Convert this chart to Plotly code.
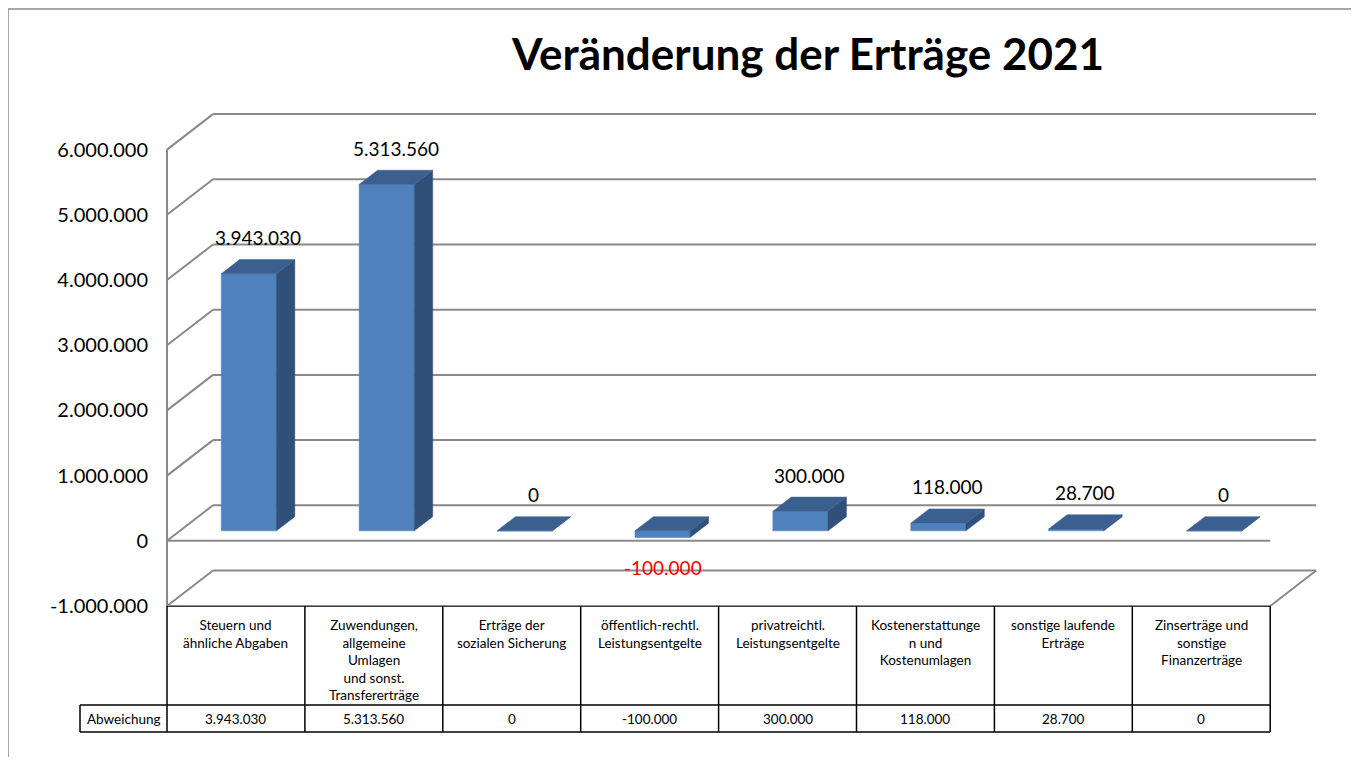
import plotly.graph_objects as go

# ---------------- data ----------------
categories = [
    "Steuern und<br>ähnliche Abgaben",
    "Zuwendungen,<br>allgemeine<br>Umlagen<br>und sonst.<br>Transfererträge",
    "Erträge der<br>sozialen Sicherung",
    "öffentlich-rechtl.<br>Leistungsentgelte",
    "privatreichtl.<br>Leistungsentgelte",
    "Kostenerstattunge<br>n und<br>Kostenumlagen",
    "sonstige laufende<br>Erträge",
    "Zinserträge und<br>sonstige<br>Finanzerträge",
]
values = [3943030, 5313560, 0, -100000, 300000, 118000, 28700, 0]
tick_values = [-1000000, 0, 1000000, 2000000, 3000000, 4000000, 5000000, 6000000]
row_label = "Abweichung"
title_text = "Veränderung der Erträge 2021"


def de(n):
    return f"{n:,}".replace(",", ".")


# ---------------- layout constants (page pixels) ----------------
OFF = 8                       # default body margin of the html page
PAGE_W, PAGE_H = 1359, 765
W, H = PAGE_W - OFF, PAGE_H - 2 * OFF
PLOT_L, PLOT_R, PLOT_T, PLOT_B = 60, 1340, 100, 733   # plot area in page px
L, T = PLOT_L - OFF, PLOT_T - OFF
R = W - (PLOT_R - OFF)
B = H - (PLOT_B - OFF)
plot_w = PLOT_R - PLOT_L
plot_h = PLOT_B - PLOT_T
PX_CAT = 137.9            # pixels per category
PX_VAL = 65.2 / 1e6       # pixels per value unit
FRONT_LEFT_PX = 167
FLOOR_PX = 606
Y_MIN = -1000000
DX = 46 / PX_CAT          # depth offset (x, category units)
DY = 35.5 / PX_VAL        # depth offset (y, value units)
BAR_W = 0.4
BAR_FRONT = 0.28          # depth fraction of bar front face
BAR_DEPTH = 0.40          # depth fraction of bar thickness
LABEL_W = 87 / PX_CAT     # width of row-label cell
TABLE_H = PLOT_B - FLOOR_PX
HEAD_H = 99

n = len(values)
x_left, x_right = -0.5, n - 0.5

GRID = "#8a8a8a"
FRONT_C = "#4F81BD"
SIDE_C = "#30507A"
TOP_C = "#3B6090"
FONT = "Lato"

fig = go.Figure()

# ---------------- walls / gridlines ----------------
gx, gy = [], []
for v in tick_values:
    gx += [x_left + DX, x_right + DX, None]
    gy += [v + DY, v + DY, None]
    gx += [x_left, x_left + DX, None]
    gy += [v, v + DY, None]
gx += [x_left, x_left, None]
gy += [min(tick_values), max(tick_values), None]
gx += [x_left, x_right, None]
gy += [0, 0, None]
gx += [x_left, x_right, x_right + DX, None]
gy += [Y_MIN, Y_MIN, Y_MIN + DY, None]
fig.add_trace(go.Scatter(x=gx, y=gy, mode="lines", line=dict(color=GRID, width=2),
                         hoverinfo="skip", showlegend=False))

# ---------------- 3D bars ----------------
for i, v in enumerate(values):
    ox, oy = i + BAR_FRONT * DX, BAR_FRONT * DY
    xl, xr = ox - BAR_W / 2, ox + BAR_W / 2
    y0, y1 = oy, oy + v
    ddx, ddy = BAR_DEPTH * DX, BAR_DEPTH * DY
    ytop, ybot = max(y0, y1), min(y0, y1)
    fig.add_trace(go.Scatter(x=[xl, xr, xr, xl, xl], y=[ybot, ybot, ytop, ytop, ybot],
                             fill="toself", fillcolor=FRONT_C, mode="lines",
                             line=dict(color=FRONT_C, width=0.5),
                             hoverinfo="skip", showlegend=False))
    fig.add_trace(go.Scatter(x=[xr, xr + ddx, xr + ddx, xr, xr],
                             y=[ybot, ybot + ddy, ytop + ddy, ytop, ybot],
                             fill="toself", fillcolor=SIDE_C, mode="lines",
                             line=dict(color=SIDE_C, width=0.5),
                             hoverinfo="skip", showlegend=False))
    fig.add_trace(go.Scatter(x=[xl, xr, xr + ddx, xl + ddx, xl],
                             y=[ytop, ytop, ytop + ddy, ytop + ddy, ytop],
                             fill="toself", fillcolor=TOP_C, mode="lines",
                             line=dict(color=TOP_C, width=0.5),
                             hoverinfo="skip", showlegend=False))

# ---------------- data labels ----------------
annotations = []
for i, v in enumerate(values):
    cx = i + (BAR_FRONT + BAR_DEPTH / 2) * DX
    if v >= 0:
        annotations.append(dict(x=cx, y=v + (BAR_FRONT + BAR_DEPTH) * DY, xref="x", yref="y",
                                text=de(v), showarrow=False, yanchor="middle", yshift=22,
                                font=dict(family=FONT, size=19, color="black")))
    else:
        annotations.append(dict(x=i + BAR_FRONT * DX, y=v + BAR_FRONT * DY, xref="x", yref="y",
                                text=de(v), showarrow=False, yanchor="middle", yshift=-30,
                                font=dict(family=FONT, size=19, color="red")))

# ---------------- data table ----------------
tx, ty = [], []
tx += [x_left, x_right, None]
ty += [0, 0, None]
for yy in (HEAD_H, TABLE_H - 1):
    tx += [x_left - LABEL_W, x_right, None]
    ty += [yy, yy, None]
for k in range(n + 1):
    tx += [x_left + k, x_left + k, None]
    ty += [0, TABLE_H - 1, None]
tx += [x_left - LABEL_W, x_left - LABEL_W, None]
ty += [HEAD_H, TABLE_H - 1, None]
fig.add_trace(go.Scatter(x=tx, y=ty, yaxis="y2", mode="lines",
                         line=dict(color="black", width=1.5),
                         hoverinfo="skip", showlegend=False))

for i, c in enumerate(categories):
    annotations.append(dict(x=i, y=9, xref="x", yref="y2", text=c, showarrow=False,
                            yanchor="top", align="center",
                            font=dict(family=FONT, size=13.5, color="black")))
    annotations.append(dict(x=i, y=(HEAD_H + TABLE_H - 1) / 2, xref="x", yref="y2",
                            text=de(values[i]), showarrow=False, yanchor="middle",
                            font=dict(family=FONT, size=13.5, color="black")))
annotations.append(dict(x=x_left - LABEL_W / 2, y=(HEAD_H + TABLE_H - 1) / 2, xref="x", yref="y2",
                        text=row_label, showarrow=False, yanchor="middle",
                        font=dict(family=FONT, size=13.5, color="black")))

# ---------------- layout ----------------
split = TABLE_H / plot_h
bx0 = (8 - PLOT_L) / plot_w
by0 = (PLOT_B - 9) / plot_h
fig.update_layout(
    width=W, height=H,
    margin=dict(l=L, r=R, t=T, b=B),
    paper_bgcolor="white", plot_bgcolor="white",
    showlegend=False,
    title=dict(text=f"<b>{title_text}</b>", x=(808 - OFF) / W, xref="container", xanchor="center",
               y=1 - (55 - OFF) / H, yref="container", yanchor="middle",
               font=dict(family=FONT, size=44, color="black")),
    xaxis=dict(range=[x_left - (FRONT_LEFT_PX - PLOT_L) / PX_CAT,
                      x_left + (PLOT_R - FRONT_LEFT_PX) / PX_CAT],
               visible=False, domain=[0, 1], fixedrange=True),
    yaxis=dict(range=[Y_MIN, Y_MIN + (FLOOR_PX - PLOT_T) / PX_VAL], domain=[split, 1],
               anchor="free", position=(FRONT_LEFT_PX - PLOT_L) / plot_w,
               tickvals=tick_values, ticktext=[de(v) for v in tick_values],
               showgrid=False, zeroline=False, showline=False, ticks="",
               ticklabelstandoff=19,
               tickfont=dict(family=FONT, size=20, color="black"), fixedrange=True),
    yaxis2=dict(range=[TABLE_H, 0], domain=[0, split], anchor="x", visible=False, fixedrange=True),
    annotations=annotations,
    shapes=[dict(type="path", xref="paper", yref="paper",
                 path=f"M {(PAGE_W + 10 - PLOT_L) / plot_w} {by0} L {bx0} {by0} L {bx0} {-0.2}",
                 line=dict(color="#8c8c8c", width=1.5))],
)

fig.write_html("out.html", config={"displayModeBar": False})
